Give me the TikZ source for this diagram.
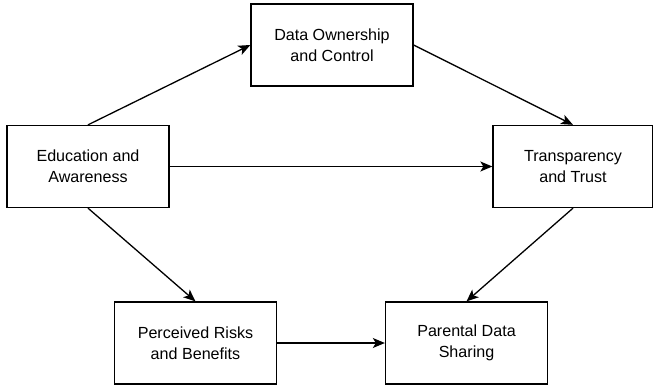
\documentclass[tikz,border=0pt]{standalone}
\usepackage{fontspec}
\setmainfont{Liberation Sans}
\usetikzlibrary{arrows.meta}
\begin{document}
\begin{tikzpicture}[x=1pt,y=-1pt,
  box/.style={draw=black,line width=1.3pt,rectangle,minimum width=162pt,minimum height=82pt,
    inner sep=0pt,align=center,font=\fontsize{16.1}{21}\selectfont},
  conn/.style={line width=1.3pt,-{Stealth[length=12pt,width=10pt,inset=3pt]}}]
\useasboundingbox (0,0) rectangle (653,390);
\node[box] (own) at (332,45) {Data Ownership\\and Control};
\node[box] (edu) at (88,166.5) {Education and\\Awareness};
\node[box,minimum width=160pt] (tr) at (573,166.5) {Transparency\\and Trust};
\node[box] (risk) at (195.5,343) {Perceived Risks\\and Benefits};
\node[box] (par) at (466.5,343) {Parental Data\\Sharing};
\draw[conn] (edu.north) -- (own.west);
\draw[conn] (own.east) -- (tr.north);
\draw[conn] (edu.east) -- (tr.west);
\draw[conn] (edu.south) -- (risk.north);
\draw[conn] (tr.south) -- (par.north);
\draw[conn] (risk.east) -- (par.west);
\end{tikzpicture}
\end{document}
